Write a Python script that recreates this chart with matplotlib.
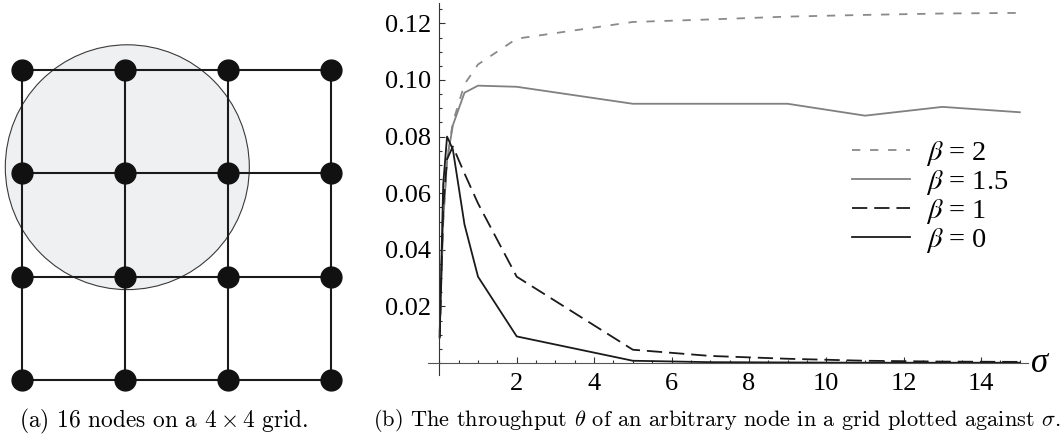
import numpy as np
import matplotlib
matplotlib.use("Agg")
import matplotlib.pyplot as plt
from matplotlib.patches import Circle
from matplotlib.font_manager import FontProperties
from matplotlib.ticker import MultipleLocator

plt.rcParams['mathtext.fontset'] = 'cm'
plt.rcParams['lines.scale_dashes'] = False

# left panel: 4 x 4 grid, disc of influence around node (1, 2)
grid_n = 4
disc_center = (1.02, 2.06)
disc_radius = 1.185

# right panel: throughput vs sigma
sigma = [0.01, 0.1, 0.2, 0.35, 0.65, 1, 2, 5, 7, 9, 11, 13, 15]
beta_2 = [0.011, 0.05, 0.072, 0.085, 0.0985, 0.1055, 0.1146, 0.1205, 0.1214, 0.1224, 0.123, 0.1235, 0.1237]
beta_15 = [0.011, 0.05, 0.0717, 0.084, 0.0955, 0.098, 0.0976, 0.0916, 0.0916, 0.0916, 0.0874, 0.0905, 0.0886]
beta_1 = [0.009, 0.055, 0.072, 0.0765, 0.067, 0.0564, 0.0305, 0.0047, 0.0025, 0.0015, 0.0008, 0.0005, 0.0004]
beta_0 = [0.009, 0.063, 0.080, 0.0755, 0.049, 0.0305, 0.0094, 0.0008, 0.0003, 0.0002, 0.0001, 0.0001, 0.0001]
labels = ["2", "1.5", "1", "0"]

fig = plt.figure(figsize=(10.64, 4.37), dpi=100)

# ---- (a) grid
ax1 = fig.add_axes([0.0016, 0.0595, 0.329, 0.851])
ax1.set_xlim(-0.2, 3.2)
ax1.set_ylim(-0.3, 3.3)
ax1.axis('off')
ax1.add_patch(Circle(disc_center, disc_radius, facecolor='#eff0f2', edgecolor='#3a3a3a', lw=0.8, zorder=1))
pos = np.arange(grid_n)
for p in pos:
    ax1.plot([0, grid_n - 1], [p, p], color='#1a1a1a', lw=1.5, zorder=2)
    ax1.plot([p, p], [0, grid_n - 1], color='#1a1a1a', lw=1.5, zorder=2)
gx, gy = np.meshgrid(pos, pos)
ax1.plot(gx.ravel(), gy.ravel(), 'o', color='#111111', ms=15, zorder=3)

# ---- (b) throughput
ax2 = fig.add_axes([0.4027, 0.1421, 0.5638, 0.851])
ax2.set_xlim(-0.28, 15.22)
ax2.set_ylim(-0.0042, 0.1272)
ax2.plot(sigma, beta_2, color='#8a8a8a', lw=1.3, ls=(0, (6, 7)), label=r"$\beta$ = " + labels[0])
ax2.plot(sigma, beta_15, color='#808080', lw=1.3, label=r"$\beta$ = " + labels[1])
ax2.plot(sigma, beta_1, color='#1a1a1a', lw=1.3, ls=(0, (11, 5)), label=r"$\beta$ = " + labels[2])
ax2.plot(sigma, beta_0, color='#1a1a1a', lw=1.3, label=r"$\beta$ = " + labels[3])

for s in ['top', 'right']:
    ax2.spines[s].set_visible(False)
ax2.spines['left'].set_position(('data', 0))
ax2.spines['bottom'].set_position(('data', 0))
ax2.spines['left'].set_color('#333333')
ax2.spines['bottom'].set_color('#555555')
ax2.set_xticks(range(2, 16, 2))
ax2.xaxis.set_minor_locator(MultipleLocator(0.5))
ax2.set_yticks([0.02, 0.04, 0.06, 0.08, 0.10, 0.12])
ax2.set_yticklabels(["0.02", "0.04", "0.06", "0.08", "0.10", "0.12"])
ax2.yaxis.set_minor_locator(MultipleLocator(0.005))
ax2.tick_params(which='both', direction='in', color='#333333', width=0.8)
ax2.tick_params(which='major', length=4.5)
ax2.tick_params(which='minor', length=2.5)
ax2.tick_params(axis='x', pad=7)
ax2.tick_params(axis='y', pad=6)
for t in ax2.get_xticklabels() + ax2.get_yticklabels():
    t.set_fontfamily('Liberation Serif')
    t.set_fontsize(19)
ax2.text(15.3, 0, "σ", family='Liberation Serif', style='italic', fontsize=25, va='center', ha='left')

leg_font = FontProperties(family='Liberation Serif', size=20.5, math_fontfamily='stix')
ax2.legend(loc='upper left', bbox_to_anchor=(852 / 1064, 1 - 139 / 437), bbox_transform=fig.transFigure,
           frameon=False, prop=leg_font, handlelength=2.05, handletextpad=0.55,
           labelspacing=0.0, borderpad=0, borderaxespad=0)

# captions
fig.text(164 / 1064, 1 - 421 / 437, r"(a) 16 nodes on a $4\times4$ grid.", family='cmr10',
         fontsize=16.8, ha='center', va='center')
fig.text(373 / 1064, 1 - 421 / 437,
         r"(b) The throughput $\theta$ of an arbitrary node in a grid plotted against $\sigma$.",
         family='cmr10', fontsize=16.1, ha='left', va='center')

fig.savefig("out.png", dpi=100)
